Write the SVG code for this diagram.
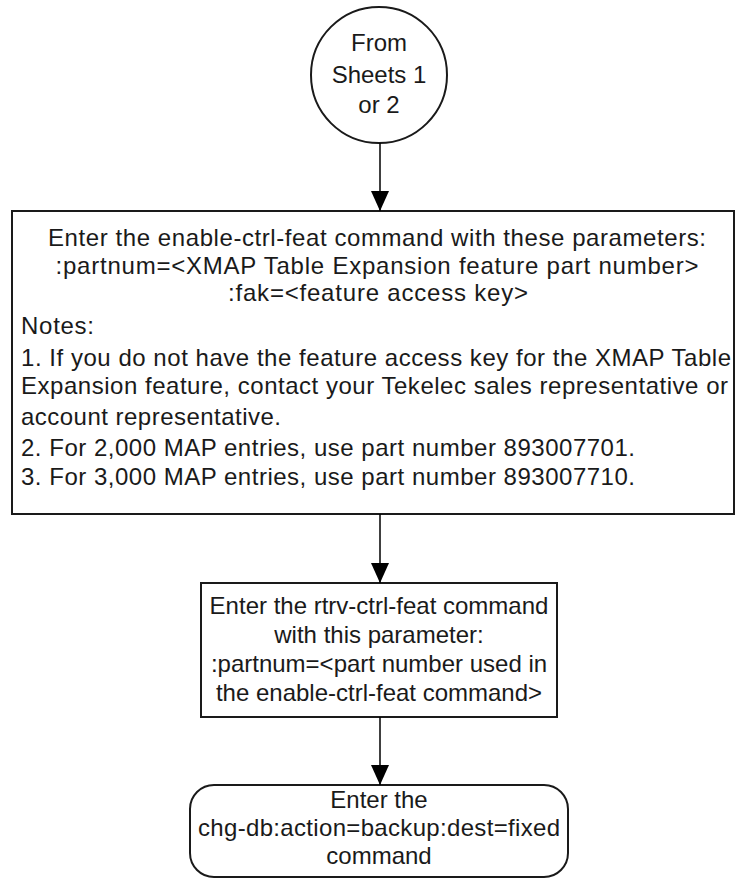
<svg xmlns="http://www.w3.org/2000/svg" width="736" height="885" viewBox="0 0 736 885">
<defs>
<marker id="arr" markerWidth="20" markerHeight="18" refX="20" refY="9" orient="auto" markerUnits="userSpaceOnUse" viewBox="0 0 20 18">
<path d="M0,0 L20,9 L0,18 Z" fill="#000"/>
</marker>
</defs>
<style>
.shape{fill:#fff;stroke:#1a1a1a;stroke-width:2}
text{font-family:"Liberation Sans",Arial,sans-serif;font-size:24px;fill:#1a1a1a}
.c{text-anchor:middle}
.conn{stroke:#000;stroke-width:1.5;fill:none}
</style>
<rect width="736" height="885" fill="#fff"/>
<g id="start">
<circle class="shape" cx="379" cy="75" r="68"/>
<text class="c" x="379" y="51">From</text>
<text class="c" x="379" y="83">Sheets 1</text>
<text class="c" x="379" y="113">or 2</text>
</g>
<g id="enable">
<rect class="shape" x="12" y="211" width="722" height="303"/>
<text class="c" x="377" y="246" textLength="658" lengthAdjust="spacing">Enter the enable-ctrl-feat command with these parameters:</text>
<text class="c" x="377" y="274" textLength="643" lengthAdjust="spacing">:partnum=&lt;XMAP Table Expansion feature part number&gt;</text>
<text class="c" x="378" y="301" textLength="300" lengthAdjust="spacing">:fak=&lt;feature access key&gt;</text>
<text x="21" y="334" textLength="73" lengthAdjust="spacing">Notes:</text>
<text x="21" y="366" textLength="710" lengthAdjust="spacing">1. If you do not have the feature access key for the XMAP Table</text>
<text x="21" y="394" textLength="707" lengthAdjust="spacing">Expansion feature, contact your Tekelec sales representative or</text>
<text x="21" y="425" textLength="260" lengthAdjust="spacing">account representative.</text>
<text x="21" y="456" textLength="614" lengthAdjust="spacing">2. For 2,000 MAP entries, use part number 893007701.</text>
<text x="21" y="485" textLength="614" lengthAdjust="spacing">3. For 3,000 MAP entries, use part number 893007710.</text>
</g>
<g id="rtrv">
<rect class="shape" x="201" y="583" width="356" height="134"/>
<text class="c" x="379" y="614">Enter the rtrv-ctrl-feat command</text>
<text class="c" x="379" y="643">with this parameter:</text>
<text class="c" x="379" y="672">:partnum=&lt;part number used in</text>
<text class="c" x="379" y="701">the enable-ctrl-feat command&gt;</text>
</g>
<g id="backup">
<rect class="shape" x="190" y="785" width="378" height="92" rx="24" ry="24"/>
<text class="c" x="379" y="808">Enter the</text>
<text class="c" x="379" y="836" textLength="362" lengthAdjust="spacing">chg-db:action=backup:dest=fixed</text>
<text class="c" x="379" y="864">command</text>
</g>
<g id="connectors">
<line class="conn" x1="380" y1="143" x2="380" y2="211" marker-end="url(#arr)"/>
<line class="conn" x1="380" y1="514" x2="380" y2="583" marker-end="url(#arr)"/>
<line class="conn" x1="380" y1="717" x2="380" y2="785" marker-end="url(#arr)"/>
</g>
</svg>
